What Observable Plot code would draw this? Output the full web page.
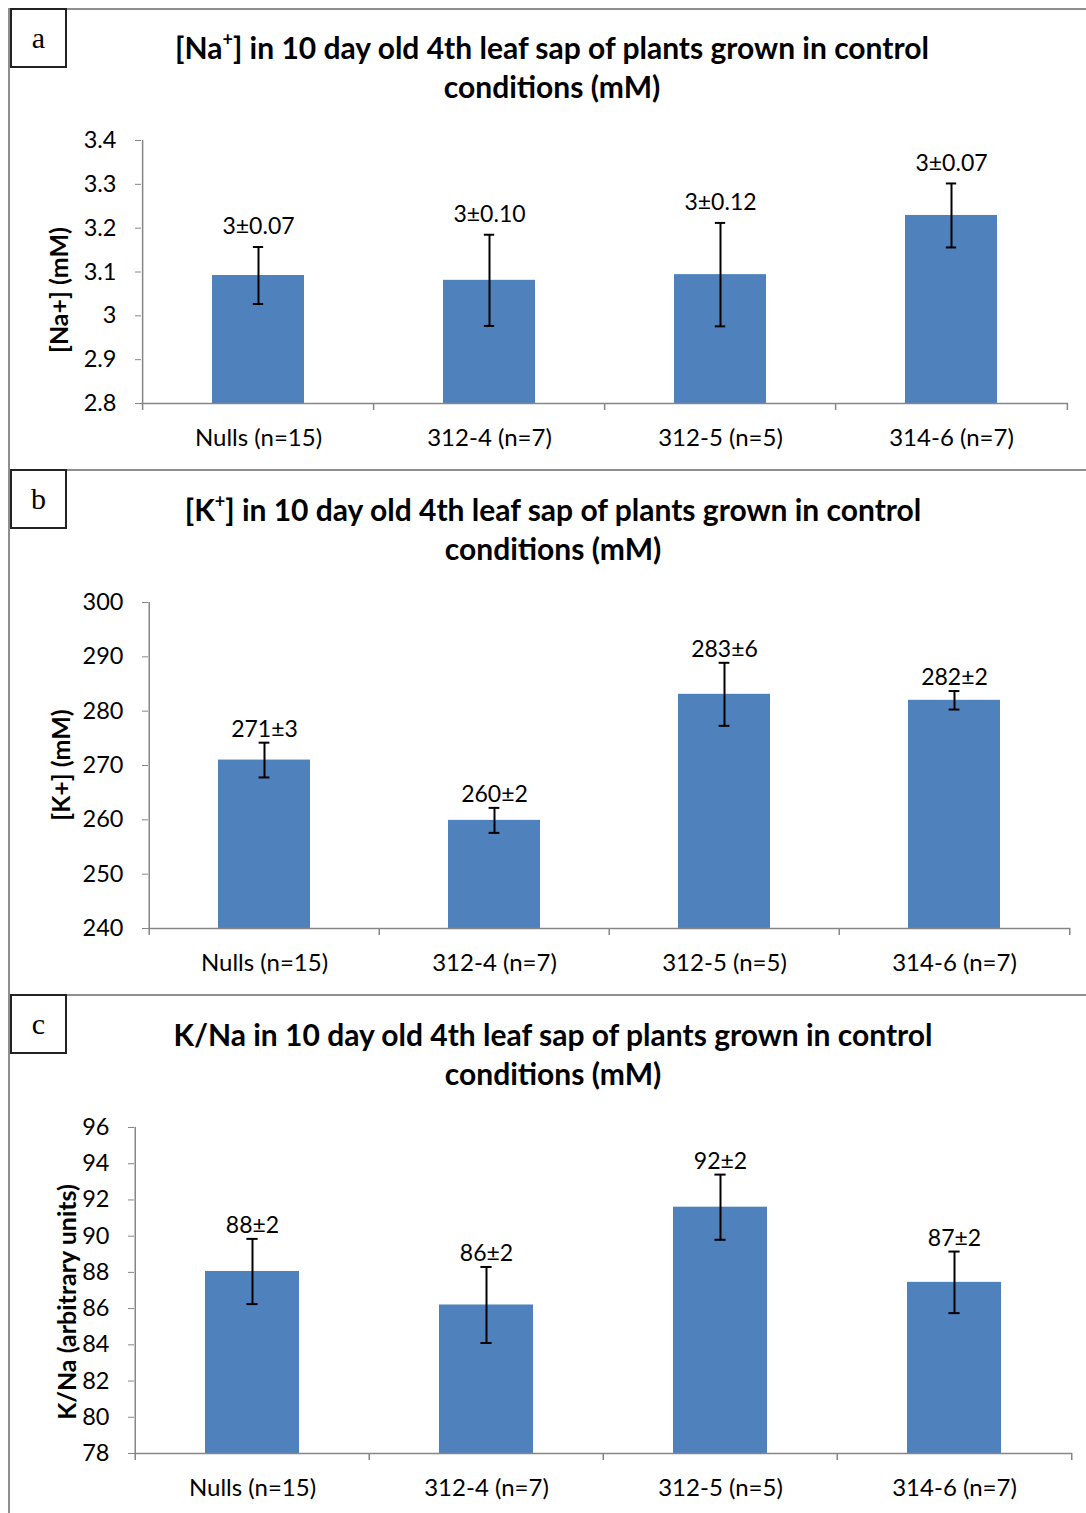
<!DOCTYPE html>
<html>
<head>
<meta charset="utf-8">
<script src="https://cdn.jsdelivr.net/npm/d3@7"></script>
<script src="https://cdn.jsdelivr.net/npm/@observablehq/plot@0.6"></script>
<style>
  body { margin: 0; background: #fff; }
  #page { position: relative; width: 1086px; height: 1513px; overflow: hidden; font-family: Lato, sans-serif; color: #000; }
  .panel { position: absolute; left: 8px; width: 1078px; border-top: 2px solid #8e8e8e; border-left: 2px solid #8e8e8e; box-sizing: border-box; }
  .chart { position: absolute; left: 0; }
  .tag { position: absolute; left: 10px; width: 57px; height: 60px; border: 2px solid #222; box-sizing: border-box;
         font-family: "Liberation Serif", serif; font-size: 30px; display: flex; align-items: center; justify-content: center; background: #fff; }
  .title { position: absolute; width: 1000px; text-align: center; font-weight: bold; font-size: 30px; line-height: 39px; }
  .title sup { font-size: 60%; line-height: 0; vertical-align: 0.75em; }
  .ylab { position: absolute; white-space: nowrap; font-weight: bold; font-size: 25px; transform: translate(-50%, -50%) rotate(-90deg); }
</style>
</head>
<body>
<div id="page"></div>
<script>
// Lines compared in every panel
const groups = ["Nulls (n=15)", "312-4 (n=7)", "312-5 (n=5)", "314-6 (n=7)"];

// (a) sodium concentration in leaf sap, mM
const naMean = [3.092, 3.081, 3.094, 3.229];
const naSem = [0.065, 0.104, 0.118, 0.073];
const naTicks = [2.8, 2.9, 3, 3.1, 3.2, 3.3, 3.4];

// (b) potassium concentration in leaf sap, mM
const kMean = [271.0, 259.9, 283.1, 282.0];
const kSem = [3.2, 2.3, 5.8, 1.7];
const kTicks = [240, 250, 260, 270, 280, 290, 300];

// (c) K/Na ratio, arbitrary units
const ratioMean = [88.05, 86.2, 91.6, 87.45];
const ratioSem = [1.8, 2.1, 1.8, 1.7];
const ratioTicks = [78, 80, 82, 84, 86, 88, 90, 92, 94, 96];

const W = 1086;
const BAR = "#4F81BD";
const AXIS = "#868686";
const FONT = "Lato, sans-serif";

const panels = [
  {
    tag: "a", top: 8, h: 461, ml: 141, mr: 18, mt: 132, mb: 66,
    title: "[Na<sup>+</sup>] in 10 day old 4th leaf sap of plants grown in control<br>conditions (mM)",
    titleX: 552, titleY: 47.5,
    ylabel: "[Na+] (mM)", ylabX: 58, ylabY: 290,
    mean: naMean, sem: naSem, ticks: naTicks, meanFmt: ".0f", semFmt: ".2f", labelDy: -20
  },
  {
    tag: "b", top: 469, h: 525, ml: 148, mr: 16, mt: 133, mb: 66,
    title: "[K<sup>+</sup>] in 10 day old 4th leaf sap of plants grown in control<br>conditions (mM)",
    titleX: 553, titleY: 509.5,
    ylabel: "[K+] (mM)", ylabX: 60, ylabY: 765,
    mean: kMean, sem: kSem, ticks: kTicks, meanFmt: ".0f", semFmt: ".0f", labelDy: -13
  },
  {
    tag: "c", top: 994, h: 519, ml: 134, mr: 14, mt: 133, mb: 60,
    title: "K/Na in 10 day old 4th leaf sap of plants grown in control<br>conditions (mM)",
    titleX: 553, titleY: 1034.5,
    ylabel: "K/Na (arbitrary units)", ylabX: 66, ylabY: 1302,
    mean: ratioMean, sem: ratioSem, ticks: ratioTicks, meanFmt: ".0f", semFmt: ".0f", labelDy: -13
  }
];

const page = document.getElementById("page");

function drawPanel(p) {
  const data = groups.map((g, i) => ({
    group: g, mean: p.mean[i], sem: p.sem[i],
    lo: p.mean[i] - p.sem[i], hi: p.mean[i] + p.sem[i],
    label: d3.format(p.meanFmt)(p.mean[i]) + "±" + d3.format(p.semFmt)(p.sem[i])
  }));
  const yMin = d3.min(p.ticks), yMax = d3.max(p.ticks);
  const step = (W - p.ml - p.mr) / groups.length;
  const padInner = 0.6;
  const bw = step * (1 - padInner);
  const capW = 11;

  const frame = document.createElement("div");
  frame.className = "panel";
  frame.style.top = p.top + "px";
  frame.style.height = p.h + "px";
  page.appendChild(frame);

  const chart = Plot.plot({
    width: W, height: p.h,
    marginTop: p.mt, marginBottom: p.mb, marginLeft: p.ml, marginRight: p.mr,
    style: { fontFamily: FONT, fontSize: "23px", color: "#000", background: "transparent", overflow: "visible" },
    x: { domain: groups, paddingInner: padInner, paddingOuter: padInner / 2, label: null },
    y: { domain: [yMin, yMax], label: null },
    marks: [
      Plot.barY(data, { x: "group", y1: () => yMin, y2: "mean", fill: BAR }),
      // axis lines and the category boundary ticks below the baseline
      Plot.ruleY([yMin], { stroke: AXIS, strokeWidth: 1.5 }),
      Plot.ruleX(groups.slice(0, 1), { x: d => d, y1: () => yMin, y2: () => yMax, dx: -step / 2, stroke: AXIS, strokeWidth: 1.5 }),
      Plot.ruleX(groups, { x: d => d, y1: () => yMin, y2: () => yMin, insetBottom: -7, dx: -step / 2, stroke: AXIS, strokeWidth: 1.5 }),
      Plot.ruleX(groups.slice(-1), { x: d => d, y1: () => yMin, y2: () => yMin, insetBottom: -7, dx: step / 2, stroke: AXIS, strokeWidth: 1.5 }),
      Plot.axisY(p.ticks, { tickSize: 6, tickPadding: 19, tickFormat: d => String(d), stroke: AXIS, fontSize: 23.5 }),
      Plot.axisX({ tickSize: 0, tickPadding: 25, fontSize: 24 }),
      // standard-error bars
      Plot.ruleX(data, { x: "group", y1: "lo", y2: "hi", stroke: "#000", strokeWidth: 2 }),
      Plot.tickY(data, { x: "group", y: "hi", stroke: "#000", strokeWidth: 2, insetLeft: (bw - capW) / 2, insetRight: (bw - capW) / 2 }),
      Plot.tickY(data, { x: "group", y: "lo", stroke: "#000", strokeWidth: 2, insetLeft: (bw - capW) / 2, insetRight: (bw - capW) / 2 }),
      Plot.text(data, { x: "group", y: "hi", text: "label", dy: p.labelDy, fontSize: 23, fill: "#000" })
    ]
  });
  chart.classList.add("chart");
  chart.style.top = p.top + "px";
  page.appendChild(chart);

  const tag = document.createElement("div");
  tag.className = "tag";
  tag.style.top = p.top + "px";
  tag.textContent = p.tag;
  page.appendChild(tag);

  const title = document.createElement("div");
  title.className = "title";
  title.style.left = (p.titleX - 500) + "px";
  title.style.top = (p.titleY - 19.5) + "px";
  title.innerHTML = p.title;
  page.appendChild(title);

  const ylab = document.createElement("div");
  ylab.className = "ylab";
  ylab.style.left = p.ylabX + "px";
  ylab.style.top = p.ylabY + "px";
  ylab.textContent = p.ylabel;
  page.appendChild(ylab);
}

panels.forEach(drawPanel);
</script>
</body>
</html>
